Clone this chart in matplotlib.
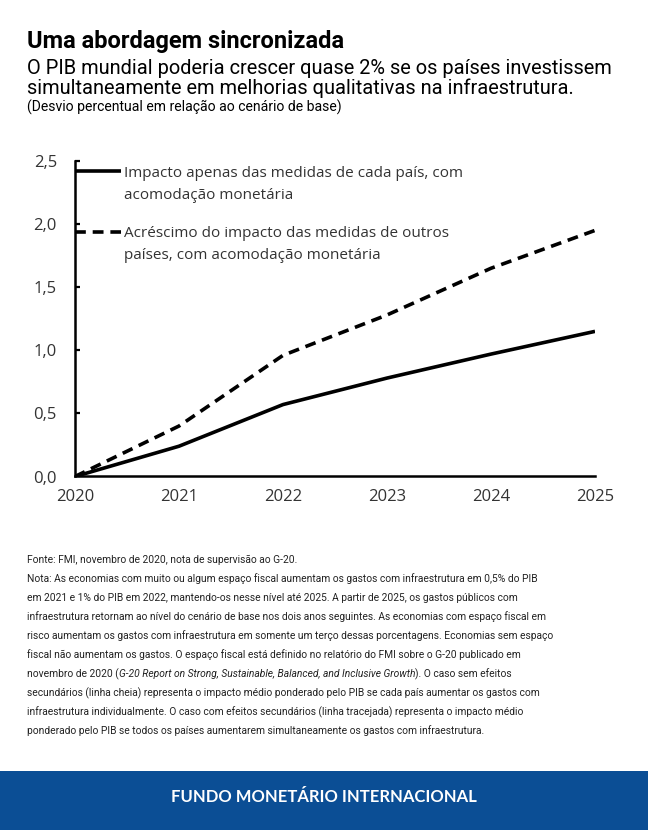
#!/usr/bin/env python3

'''Linha de impacto no PIB mundial: medidas isoladas vs sincronizadas.'''

import matplotlib
matplotlib.use('Agg')
import matplotlib.pyplot as plt
import matplotlib.lines as mlines
import matplotlib.patches as mpatches


W, H = 648, 830

YEARS = [2020, 2021, 2022, 2023, 2024, 2025]
SOLO = [0.0, 0.24, 0.57, 0.78, 0.97, 1.15]
SYNC = [0.0, 0.40, 0.96, 1.28, 1.65, 1.95]
Y_TICKS = [0.0, 0.5, 1.0, 1.5, 2.0, 2.5]
Y_LABELS = ['0,0', '0,5', '1,0', '1,5', '2,0', '2,5']

TITLE = 'Uma abordagem sincronizada'
SUBTITLE = ['O PIB mundial poderia crescer quase 2% se os países investissem',
            'simultaneamente em melhorias qualitativas na infraestrutura.']
UNITS = '(Desvio percentual em relação ao cenário de base)'
LEG_SOLO = ['Impacto apenas das medidas de cada país, com',
            'acomodação monetária']
LEG_SYNC = ['Acréscimo do impacto das medidas de outros',
            'países, com acomodação monetária']

NOTES = [
    [('Fonte: FMI, novembro de 2020, nota de supervisão ao G-20.', 'normal')],
    [('Nota: As economias com muito ou algum espaço fiscal aumentam os gastos '
      'com infraestrutura em 0,5% do PIB', 'normal')],
    [('em 2021 e 1% do PIB em 2022, mantendo-os nesse nível até 2025. A partir '
      'de 2025, os gastos públicos com', 'normal')],
    [('infraestrutura retornam ao nível do cenário de base nos dois anos '
      'seguintes. As economias com espaço fiscal em', 'normal')],
    [('risco aumentam os gastos com infraestrutura em somente um terço dessas '
      'porcentagens. Economias sem espaço', 'normal')],
    [('fiscal não aumentam os gastos. O espaço fiscal está definido no '
      'relatório do FMI sobre o G-20 publicado em', 'normal')],
    [('novembro de 2020 (', 'normal'),
     ('G-20 Report on Strong, Sustainable, Balanced, and Inclusive Growth',
      'italic'),
     ('). O caso sem efeitos', 'normal')],
    [('secundários (linha cheia) representa o impacto médio ponderado pelo '
      'PIB se cada país aumentar os gastos com', 'normal')],
    [('infraestrutura individualmente. O caso com efeitos secundários (linha '
      'tracejada) representa o impacto médio', 'normal')],
    [('ponderado pelo PIB se todos os países aumentarem simultaneamente os '
      'gastos com infraestrutura.', 'normal')],
]

BANNER = 'FUNDO MONETÁRIO INTERNACIONAL'
BLUE = '#0b4e95'
GREY = '#333333'
CHART_FONT = ['Open Sans', 'DejaVu Sans']
HEAD_FONT = ['Roboto', 'DejaVu Sans']


def fx(x):
    return x / W


def fy(y):
    return 1 - y / H


def main():
    fig = plt.figure(figsize=(W / 100, H / 100), dpi=100)

    # plot area (pixels: left 75, right 595, top 161, bottom 476.5)
    axis = fig.add_axes([fx(75), fy(476.5), (595 - 75) / W, (476.5 - 161) / H])
    axis.plot(YEARS, SOLO, '-', color='black', lw=2.6, solid_capstyle='butt')
    axis.plot(YEARS, SYNC, color='black', lw=2.6, linestyle=(0, (3, 1.9)),
              dash_capstyle='butt')
    axis.set_xlim(YEARS[0], YEARS[-1])
    axis.set_ylim(Y_TICKS[0], Y_TICKS[-1])
    axis.set_xticks(YEARS)
    axis.set_xticklabels([str(y) for y in YEARS], family=CHART_FONT,
                         fontsize=12, color=GREY)
    axis.set_yticks(Y_TICKS)
    axis.set_yticklabels(Y_LABELS, family=CHART_FONT, fontsize=12, color=GREY)
    axis.tick_params(axis='x', length=0, pad=9)
    axis.tick_params(axis='y', direction='in', length=3.6, width=1.6, pad=13)
    for side in ('top', 'right'):
        axis.spines[side].set_visible(False)
    for side in ('left', 'bottom'):
        axis.spines[side].set_linewidth(1.8)
        axis.spines[side].set_color('black')
    axis.patch.set_alpha(0)

    # legend drawn by hand so the key sits on the first text line
    for key_y, style, lines, base in ((170.5, '-', LEG_SOLO, 177),
                                      (232.5, (0, (3, 1.9)), LEG_SYNC, 237)):
        fig.add_artist(mlines.Line2D([fx(75), fx(121)], [fy(key_y)] * 2,
                                     color='black', lw=2.6, linestyle=style,
                                     dash_capstyle='butt',
                                     solid_capstyle='butt'))
        for i, line in enumerate(lines):
            fig.text(fx(124), fy(base + 22 * i), line, family=CHART_FONT,
                     fontsize=11, color=GREY, va='baseline')

    # header
    fig.text(fx(27), fy(48), TITLE, family=HEAD_FONT, fontsize=17,
             fontweight='bold', color='black', va='baseline')
    for i, line in enumerate(SUBTITLE):
        fig.text(fx(27), fy(73.5 + 21 * i), line, family=HEAD_FONT,
                 fontsize=14.4, color='black', va='baseline')
    fig.text(fx(27), fy(112), UNITS, family=HEAD_FONT, fontsize=10.1,
             color='black', va='baseline')

    # notes, with the italic report title placed piece by piece
    renderer = fig.canvas.get_renderer()
    for i, parts in enumerate(NOTES):
        x_px = 27
        for text, style in parts:
            txt = fig.text(fx(x_px), fy(563 + 19 * i), text, family=HEAD_FONT,
                           fontsize=7.4, style=style, color='#222222',
                           va='baseline')
            x_px += txt.get_window_extent(renderer).width

    # footer banner
    fig.add_artist(mpatches.Rectangle((0, 0), 1, (H - 770.5) / H,
                                      transform=fig.transFigure,
                                      color=BLUE, lw=0))
    fig.text(0.5, fy(797), BANNER, family=['Lato', 'DejaVu Sans'],
             fontsize=12, fontweight='bold', color='white',
             ha='center', va='center')

    fig.savefig('out.png', dpi=100)


if __name__ == '__main__':
    main()
